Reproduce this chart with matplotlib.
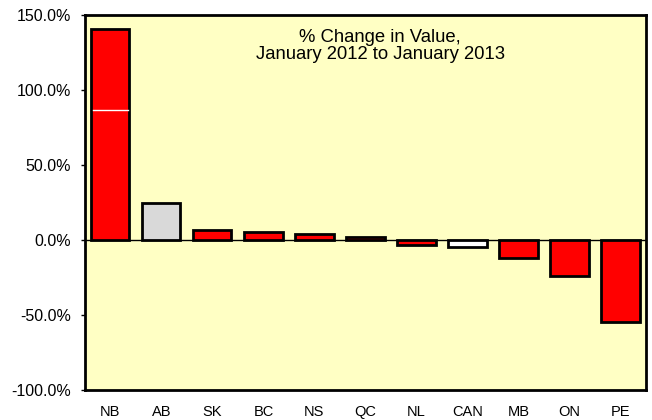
import matplotlib.pyplot as plt
from matplotlib.ticker import FuncFormatter

plt.rcParams['font.family'] = ['Liberation Sans', 'DejaVu Sans']

# % change, Jan 2012 -> Jan 2013
provinces = ['NB', 'AB', 'SK', 'BC', 'NS', 'QC', 'NL', 'CAN', 'MB', 'ON', 'PE']
changes = [140.5, 24.5, 7.0, 5.2, 4.0, 2.4, -3.0, -4.5, -11.6, -23.6, -54.8]
colors = ['#ff0000', '#d9d9d9', '#ff0000', '#ff0000', '#ff0000', '#ff0000',
          '#ff0000', '#ffffff', '#ff0000', '#ff0000', '#ff0000']

fig = plt.figure(figsize=(6.52, 4.2), dpi=100)
ax = fig.add_axes([0.130, 0.071, 0.861, 0.893])
ax.set_facecolor('#ffffc4')

x = range(len(provinces))
bars = ax.bar(x, changes, width=0.75, color=colors, edgecolor='black', linewidth=2, zorder=3)

# thin white line seen across the NB bar
nb = bars[0]
ax.plot([nb.get_x() + 0.03, nb.get_x() + nb.get_width() - 0.03], [86.5, 86.5],
        color='white', linewidth=1, zorder=4)

ax.axhline(0, color='black', linewidth=1, zorder=2)

ax.set_xlim(-0.5, len(provinces) - 0.5)
ax.set_ylim(-100, 150)
ax.set_yticks([-100, -50, 0, 50, 100, 150])
ax.yaxis.set_major_formatter(FuncFormatter(lambda v, p: f'{v:.1f}%'))
ax.set_xticks(list(x))
ax.set_xticklabels(provinces)
ax.tick_params(axis='x', length=0, pad=11, labelsize=10.5)
ax.tick_params(axis='y', length=3, width=1, labelsize=11.5, pad=7)

for s in ax.spines.values():
    s.set_linewidth(2)

ax.text(5.29, 141, '% Change in Value,\nJanuary 2012 to January 2013',
        ha='center', va='top', fontsize=13.3, linespacing=1.02)

fig.savefig('out.png', dpi=100)
